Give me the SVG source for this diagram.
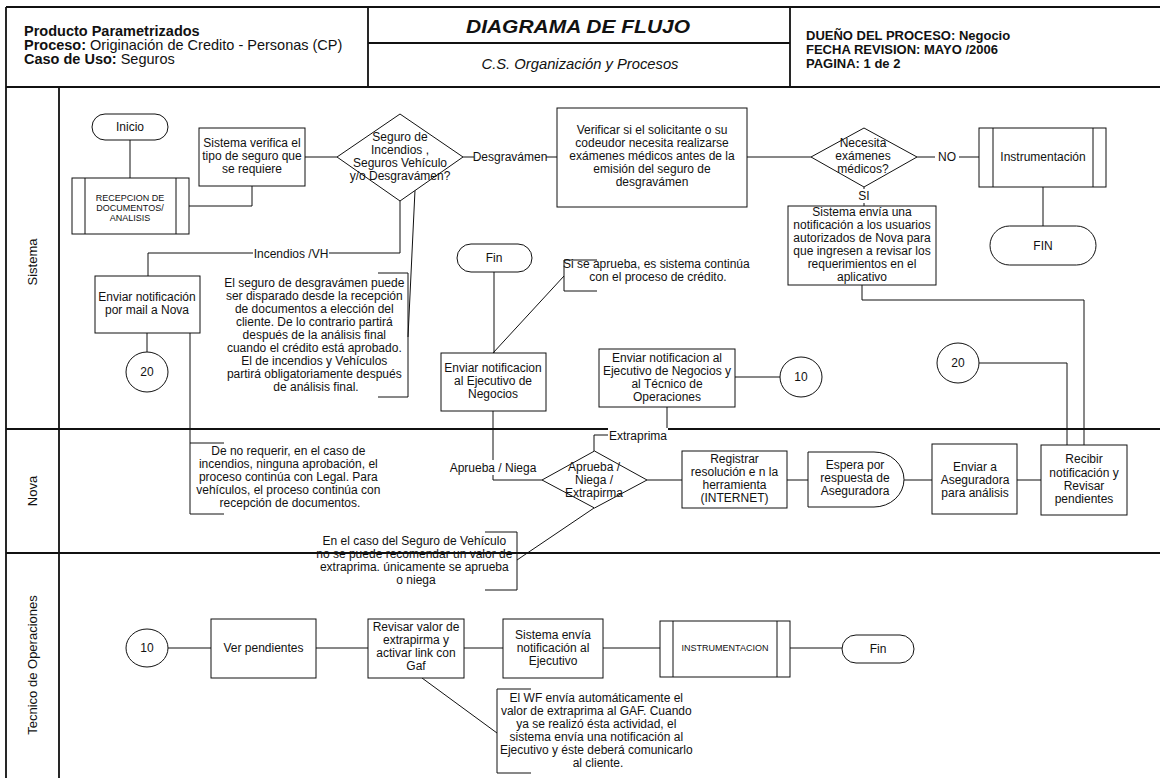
<svg xmlns="http://www.w3.org/2000/svg" width="1160" height="778" viewBox="0 0 1160 778">
  <style>
    text { font-family: "Liberation Sans", Arial, sans-serif; fill: #111; }
    .t { font-size: 12px; text-anchor: middle; }
    .s { font-size: 9px; text-anchor: middle; }
    .hb { font-size: 14.5px; font-weight: bold; }
    .hr { font-size: 14.5px; font-weight: normal; }
    .rb { font-size: 13px; font-weight: bold; }
    .lane { font-size: 13px; text-anchor: middle; }
    .shape { fill: #fff; stroke: #111; stroke-width: 1; }
    .frame { fill: none; stroke: #111; stroke-width: 1.8; }
    .conn path, .conn line { fill: none; stroke: #111; stroke-width: 1; }
    .lbl { font-size: 12px; text-anchor: middle; }
    .bg { fill: #fff; stroke: none; }
  </style>

  <rect width="1160" height="778" fill="#fff"/>

  <!-- Title block -->
  <g id="header">
    <path class="frame" d="M6,7 H1160 M6,7 V87 M368,7 V87 M790,7 V87 M368,43 H790 M6,87 H1160"/>
    <text class="hb" x="24" y="36">Producto Parametrizados</text>
    <text x="24" y="50"><tspan class="hb">Proceso:</tspan><tspan class="hr">  Originación de Credito - Personas (CP)</tspan></text>
    <text x="24" y="64"><tspan class="hb">Caso de Uso:</tspan><tspan class="hr"> Seguros</tspan></text>
    <text x="578" y="33" textLength="224" lengthAdjust="spacingAndGlyphs" style="font-size:19px;font-weight:bold;font-style:italic;text-anchor:middle">DIAGRAMA DE FLUJO</text>
    <text x="580" y="69" textLength="197" lengthAdjust="spacingAndGlyphs" style="font-size:14.5px;font-style:italic;text-anchor:middle">C.S. Organización y Procesos</text>
    <text class="rb" x="806" y="40">DUEÑO DEL PROCESO: Negocio</text>
    <text class="rb" x="806" y="54">FECHA REVISION: MAYO /2006</text>
    <text class="rb" x="806" y="68">PAGINA:  1 de 2</text>
  </g>

  <!-- Swimlanes -->
  <g id="lanes">
    <path class="frame" d="M6,87 V778 M59,87 V778 M6,429 H1160 M6,553 H1160"/>
    <text class="lane" transform="translate(37,262) rotate(-90)">Sistema</text>
    <text class="lane" transform="translate(37,491) rotate(-90)">Nova</text>
    <text class="lane" transform="translate(37,665) rotate(-90)">Tecnico de Operaciones</text>
  </g>

  <!-- Connectors -->
  <g id="connectors" class="conn">
    <line x1="130" y1="140" x2="130" y2="178"/>
    <path d="M189,206 H252 V186"/>
    <line x1="305" y1="157" x2="337" y2="157"/>
    <line x1="463" y1="157" x2="557" y2="157"/>
    <line x1="747" y1="157" x2="811" y2="157"/>
    <line x1="917" y1="157" x2="979" y2="157"/>
    <line x1="1043" y1="187" x2="1043" y2="226"/>
    <line x1="864" y1="187" x2="864" y2="206"/>
    <path d="M862,285 V300 H1084 V445"/>
    <path d="M979,363 H1067 V445"/>
    <path d="M400,201 V253 H148 V276"/>
    <line x1="147" y1="333" x2="147" y2="352"/>
    <path d="M190,333 V514 H224 M190,443 H224"/>
    <line x1="494" y1="272" x2="494" y2="353"/>
    <path d="M597,260 H564 V291 H597"/>
    <line x1="564" y1="276" x2="493" y2="353"/>
    <path d="M493,411 V480 H542"/>
    <path d="M667,407 V435 H594 V451"/>
    <line x1="735" y1="377" x2="780" y2="377"/>
    <line x1="647" y1="480" x2="682" y2="480"/>
    <line x1="787" y1="480" x2="808" y2="480"/>
    <line x1="904" y1="480" x2="932" y2="480"/>
    <line x1="1017" y1="480" x2="1041" y2="480"/>
    <path d="M378,273 H408 V397 H378"/>
    <line x1="415" y1="190" x2="408" y2="337"/>
    <path d="M485,532 H517 V590 H485"/>
    <line x1="594" y1="508" x2="517" y2="560"/>
    <line x1="168" y1="648" x2="211" y2="648"/>
    <line x1="316" y1="648" x2="368" y2="648"/>
    <line x1="464" y1="648" x2="503" y2="648"/>
    <line x1="603" y1="648" x2="660" y2="648"/>
    <line x1="790" y1="648" x2="842" y2="648"/>
    <line x1="422" y1="678" x2="497" y2="733"/>
    <path d="M531,689 H497 V773 H531"/>
  </g>

  <!-- Connector labels -->
  <g id="connector-labels">
    <rect class="bg" x="474" y="149" width="72" height="15"/>
    <text class="lbl" x="510" y="161">Desgravámen</text>
    <rect class="bg" x="935" y="149" width="24" height="15"/>
    <text class="lbl" x="947" y="161">NO</text>
    <rect class="bg" x="856" y="189" width="16" height="14"/>
    <text class="lbl" x="864" y="200">SI</text>
    <rect class="bg" x="253" y="246" width="76" height="15"/>
    <text class="lbl" x="291" y="258">Incendios /VH</text>
    <rect class="bg" x="450" y="460" width="87" height="15"/>
    <text class="lbl" x="493" y="472">Aprueba / Niega</text>
    <rect class="bg" x="608" y="428" width="60" height="15"/>
    <text class="lbl" x="638" y="440">Extraprima</text>
  </g>

  <!-- Annotations -->
  <g id="notes">
    <text class="t">
      <tspan x="316" y="287">El seguro de desgravámen puede</tspan>
      <tspan x="316" y="300">ser disparado desde la recepción</tspan>
      <tspan x="316" y="313">de documentos a elección del</tspan>
      <tspan x="316" y="326">cliente. De lo contrario partirá</tspan>
      <tspan x="316" y="339">después de la análisis final</tspan>
      <tspan x="316" y="352">cuando el crédito está aprobado.</tspan>
      <tspan x="316" y="365">El de incendios y Vehículos</tspan>
      <tspan x="316" y="378">partirá obligatoriamente después</tspan>
      <tspan x="316" y="391">de análisis final.</tspan>
    </text>
    <text class="t">
      <tspan x="658" y="268">Si se aprueba, es sistema continúa</tspan>
      <tspan x="658" y="281">con el proceso de crédito.</tspan>
    </text>
    <text class="t">
      <tspan x="290" y="455">De no requerir, en el caso de</tspan>
      <tspan x="290" y="468">incendios,  ninguna aprobación, el</tspan>
      <tspan x="290" y="481">proceso continúa con Legal. Para</tspan>
      <tspan x="290" y="494">vehículos, el proceso continúa con</tspan>
      <tspan x="290" y="507">recepción de documentos.</tspan>
    </text>
    <text class="t">
      <tspan x="416" y="545">En el caso del Seguro de Vehículo</tspan>
      <tspan x="416" y="558">no se puede recomendar un valor de</tspan>
      <tspan x="416" y="571">extraprima. únicamente se aprueba</tspan>
      <tspan x="416" y="584">o niega</tspan>
    </text>
    <text class="t">
      <tspan x="598" y="702">El WF envía automáticamente el</tspan>
      <tspan x="598" y="715">valor de extraprima al GAF. Cuando</tspan>
      <tspan x="598" y="728">ya se realizó ésta actividad, el</tspan>
      <tspan x="598" y="741">sistema envía una notificación al</tspan>
      <tspan x="598" y="754">Ejecutivo y éste deberá comunicarlo</tspan>
      <tspan x="598" y="767">al cliente.</tspan>
    </text>
  </g>

  <!-- Sistema lane -->
  <g id="inicio">
    <rect class="shape" x="92" y="114" width="76" height="26" rx="13"/>
    <text class="t" x="130" y="131">Inicio</text>
  </g>
  <g id="recepcion">
    <rect class="shape" x="72" y="178" width="117" height="56"/>
    <path class="shape" d="M85,178 V234 M176,178 V234"/>
    <text class="s"><tspan x="130" y="201">RECEPCION DE</tspan><tspan x="130" y="211">DOCUMENTOS/</tspan><tspan x="130" y="221">ANALISIS</tspan></text>
  </g>
  <g id="verifica-tipo">
    <rect class="shape" x="199" y="128" width="106" height="58"/>
    <text class="t"><tspan x="252" y="147">Sistema verifica el</tspan><tspan x="252" y="160">tipo de seguro que</tspan><tspan x="252" y="173">se requiere</tspan></text>
  </g>
  <g id="tipo-seguro">
    <polygon class="shape" points="400,114 463,157 400,201 337,157"/>
    <text class="t"><tspan x="400" y="141">Seguro de</tspan><tspan x="400" y="154">Incendios ,</tspan><tspan x="400" y="167">Seguros Vehículo</tspan><tspan x="400" y="180">y/o Desgravámen?</tspan></text>
  </g>
  <g id="verificar-examenes">
    <rect class="shape" x="557" y="108" width="190" height="99"/>
    <text class="t"><tspan x="652" y="134">Verificar si el solicitante o su</tspan><tspan x="652" y="147">codeudor necesita realizarse</tspan><tspan x="652" y="160">exámenes médicos antes de la</tspan><tspan x="652" y="173">emisión del seguro de</tspan><tspan x="652" y="186">desgravámen</tspan></text>
  </g>
  <g id="necesita-examenes">
    <polygon class="shape" points="864,128 917,157 864,187 811,157"/>
    <text class="t"><tspan x="863" y="147">Necesita</tspan><tspan x="863" y="160">exámenes</tspan><tspan x="863" y="173">médicos?</tspan></text>
  </g>
  <g id="instrumentacion">
    <rect class="shape" x="979" y="128" width="127" height="59"/>
    <path class="shape" d="M993,128 V187 M1093,128 V187"/>
    <text class="t" x="1043" y="161">Instrumentación</text>
  </g>
  <g id="fin-sistema">
    <rect class="shape" x="990" y="226" width="106" height="39" rx="19.5"/>
    <text class="t" x="1043" y="250">FIN</text>
  </g>
  <g id="notifica-nova">
    <rect class="shape" x="788" y="206" width="148" height="79"/>
    <text class="t"><tspan x="862" y="216">Sistema envía una</tspan><tspan x="862" y="229">notificación a los usuarios</tspan><tspan x="862" y="242">autorizados de Nova para</tspan><tspan x="862" y="255">que ingresen a revisar los</tspan><tspan x="862" y="268">requerimientos en el</tspan><tspan x="862" y="281">aplicativo</tspan></text>
  </g>
  <g id="mail-nova">
    <rect class="shape" x="95" y="276" width="105" height="57"/>
    <text class="t"><tspan x="147" y="301">Enviar notificación</tspan><tspan x="147" y="314">por mail a Nova</tspan></text>
  </g>
  <g id="conector-20a">
    <ellipse class="shape" cx="147" cy="372" rx="21" ry="20"/>
    <text class="t" x="147" y="376">20</text>
  </g>
  <g id="fin-aprobado">
    <rect class="shape" x="457" y="244" width="75" height="28" rx="14"/>
    <text class="t" x="494" y="262">Fin</text>
  </g>
  <g id="notifica-ejecutivo">
    <rect class="shape" x="441" y="353" width="105" height="58"/>
    <text class="t"><tspan x="493" y="372">Enviar notificacion</tspan><tspan x="493" y="385">al Ejecutivo de</tspan><tspan x="493" y="398">Negocios</tspan></text>
  </g>
  <g id="notifica-tecnico">
    <rect class="shape" x="599" y="349" width="136" height="58"/>
    <text class="t"><tspan x="667" y="362">Enviar notificacion al</tspan><tspan x="667" y="375">Ejecutivo de Negocios y</tspan><tspan x="667" y="388">al Técnico de</tspan><tspan x="667" y="401">Operaciones</tspan></text>
  </g>
  <g id="conector-10a">
    <ellipse class="shape" cx="801" cy="377" rx="21" ry="20"/>
    <text class="t" x="801" y="381">10</text>
  </g>
  <g id="conector-20b">
    <ellipse class="shape" cx="958" cy="363" rx="21" ry="20"/>
    <text class="t" x="958" y="367">20</text>
  </g>

  <!-- Nova lane -->
  <g id="resolucion">
    <polygon class="shape" points="594.5,451 647,480 594.5,508 542,480"/>
    <text class="t"><tspan x="594" y="471">Aprueba /</tspan><tspan x="594" y="484">Niega /</tspan><tspan x="594" y="497">Extrapirma</tspan></text>
  </g>
  <g id="registrar">
    <rect class="shape" x="682" y="451" width="105" height="57"/>
    <text class="t"><tspan x="734.5" y="463">Registrar</tspan><tspan x="734.5" y="476">resolución e n la</tspan><tspan x="734.5" y="489">herramienta</tspan><tspan x="734.5" y="502">(INTERNET)</tspan></text>
  </g>
  <g id="espera">
    <path class="shape" d="M808,452 H874 A30,27.5 0 0 1 874,507 H808 Z"/>
    <text class="t"><tspan x="855" y="469">Espera por</tspan><tspan x="855" y="482">respuesta de</tspan><tspan x="855" y="495">Aseguradora</tspan></text>
  </g>
  <g id="enviar-aseguradora">
    <rect class="shape" x="932" y="444" width="85" height="70"/>
    <text class="t"><tspan x="975" y="471">Enviar a</tspan><tspan x="975" y="484">Aseguradora</tspan><tspan x="975" y="497">para análisis</tspan></text>
  </g>
  <g id="recibir">
    <rect class="shape" x="1041" y="445" width="86" height="70"/>
    <text class="t"><tspan x="1084" y="463">Recibir</tspan><tspan x="1084" y="477">notificación y</tspan><tspan x="1084" y="490">Revisar</tspan><tspan x="1084" y="503">pendientes</tspan></text>
  </g>

  <!-- Tecnico de Operaciones lane -->
  <g id="conector-10b">
    <ellipse class="shape" cx="147" cy="648" rx="21" ry="19"/>
    <text class="t" x="147" y="652">10</text>
  </g>
  <g id="ver-pendientes">
    <rect class="shape" x="211" y="619" width="105" height="59"/>
    <text class="t" x="263.5" y="652">Ver pendientes</text>
  </g>
  <g id="revisar-extraprima">
    <rect class="shape" x="368" y="619" width="96" height="59"/>
    <text class="t"><tspan x="416" y="631">Revisar valor de</tspan><tspan x="416" y="644">extrapirma  y</tspan><tspan x="416" y="657">activar link con</tspan><tspan x="416" y="670">Gaf</tspan></text>
  </g>
  <g id="notifica-ejecutivo-2">
    <rect class="shape" x="503" y="619" width="100" height="59"/>
    <text class="t"><tspan x="553" y="639">Sistema envía</tspan><tspan x="553" y="652">notificación al</tspan><tspan x="553" y="665">Ejecutivo</tspan></text>
  </g>
  <g id="instrumentacion-2">
    <rect class="shape" x="660" y="621" width="130" height="56"/>
    <path class="shape" d="M673,621 V677 M777,621 V677"/>
    <text class="s" x="725" y="651">INSTRUMENTACION</text>
  </g>
  <g id="fin-tecnico">
    <rect class="shape" x="842" y="635" width="72" height="28" rx="14"/>
    <text class="t" x="878" y="653">Fin</text>
  </g>
</svg>
